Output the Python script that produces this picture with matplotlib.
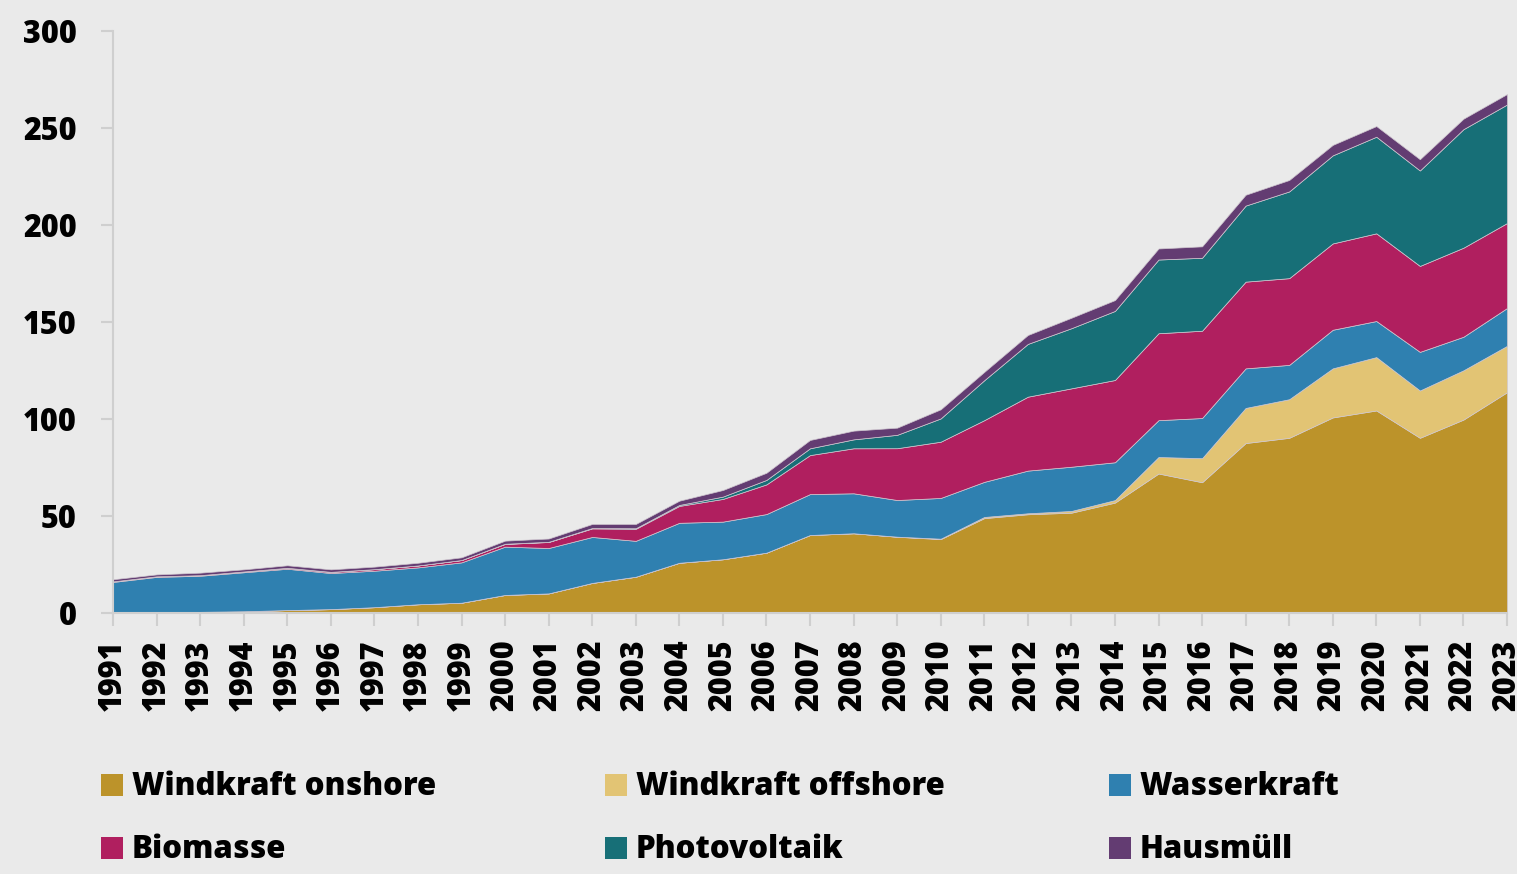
import numpy as np
import matplotlib.pyplot as plt
from matplotlib.patches import Rectangle

plt.rcParams['font.family'] = ['Open Sans', 'DejaVu Sans']
plt.rcParams['font.weight'] = 'heavy'

# Stromerzeugung aus erneuerbaren Energien, TWh
years = list(range(1991, 2024))

wind_onshore = [0.1, 0.2, 0.6, 0.9, 1.5, 2.0, 3.0, 4.5, 5.3, 9.3,
                10.1, 15.5, 18.7, 25.9, 27.7, 31.1, 40.2, 41.1, 39.3, 38.1,
                48.9, 50.9, 51.7, 56.9, 71.9, 67.4, 87.6, 90.3, 100.8, 104.4,
                90.3, 99.7, 113.8]
wind_offshore = [0, 0, 0, 0, 0, 0, 0, 0, 0, 0,
                 0, 0, 0, 0, 0, 0, 0, 0, 0.04, 0.2,
                 0.6, 0.5, 0.9, 1.3, 8.5, 12.4, 18.1, 19.9, 25.3, 27.5,
                 24.4, 25.4, 23.9]
wasserkraft = [15.9, 18.4, 18.6, 20.1, 21.3, 18.6, 18.8, 19.0, 20.8, 24.9,
               23.4, 23.7, 18.5, 20.6, 19.4, 19.9, 21.1, 20.6, 18.9, 21.0,
               18.1, 22.0, 22.8, 19.5, 19.0, 20.7, 20.4, 17.7, 19.9, 18.6,
               19.9, 17.3, 19.5]
biomasse = [0.3, 0.3, 0.3, 0.4, 0.5, 0.6, 0.8, 1.0, 1.2, 1.4,
            3.1, 4.4, 6.2, 8.7, 11.7, 15.3, 20.1, 23.2, 26.7, 29.0,
            31.8, 38.1, 40.4, 42.4, 44.8, 45.0, 44.7, 44.7, 44.5, 45.2,
            44.3, 45.9, 43.8]
photovoltaik = [0, 0, 0, 0, 0, 0, 0, 0, 0, 0.1,
                0.1, 0.2, 0.3, 0.5, 1.2, 2.3, 3.5, 4.6, 6.9, 12.0,
                20.6, 27.2, 31.0, 35.6, 38.0, 37.6, 39.2, 44.7, 45.4, 49.8,
                49.2, 61.1, 61.1]
hausmuell = [1.1, 1.0, 1.3, 1.1, 1.3, 1.3, 1.3, 1.4, 1.4, 1.6,
             1.7, 2.1, 2.2, 2.2, 3.4, 3.7, 4.3, 4.5, 3.7, 4.7,
             4.3, 4.6, 5.4, 5.6, 5.7, 5.9, 5.6, 5.9, 5.4, 5.5,
             5.8, 5.4, 5.4]

labels = ['Windkraft onshore', 'Windkraft offshore', 'Wasserkraft',
          'Biomasse', 'Photovoltaik', 'Hausmüll']
colors = ['#BC932A', '#E2C474', '#2F80B0', '#B01F5F', '#176F77', '#633C72']

bg = '#EAEAEA'
fig = plt.figure(figsize=(15.17, 8.74), dpi=100, facecolor=bg)
ax = fig.add_axes([113 / 1517, 1 - 613 / 874, 1394 / 1517, 582 / 874])
ax.set_facecolor(bg)

ax.stackplot(years, wind_onshore, wind_offshore, wasserkraft, biomasse,
             photovoltaik, hausmuell, colors=colors,
             edgecolor='#d0c8d0', linewidth=0.5)

ax.set_xlim(1991, 2023)
ax.set_ylim(0, 300)
ax.set_yticks(range(0, 301, 50))
ax.set_xticks(years)
ax.set_xticklabels([str(y) for y in years], rotation=90)

for side in ['top', 'right']:
    ax.spines[side].set_visible(False)
for side in ['left', 'bottom']:
    ax.spines[side].set_color('#cfcfcf')
    ax.spines[side].set_linewidth(1.5)
ax.tick_params(axis='both', colors='#cfcfcf', width=1.5, length=9,
               labelcolor='black', labelsize=22)
ax.tick_params(axis='y', pad=17)
ax.tick_params(axis='x', pad=10)

# Legende in drei Spalten unter der Grafik
col_x = [101, 605, 1109]
row_y = [785, 848]
for i, (lab, col) in enumerate(zip(labels, colors)):
    x = col_x[i % 3]
    y = row_y[i // 3]
    fig.patches.append(Rectangle((x / 1517, 1 - (y + 11) / 874), 22 / 1517, 22 / 874,
                                 transform=fig.transFigure, facecolor=col,
                                 edgecolor='none'))
    fig.text((x + 31) / 1517, 1 - (y + 10) / 874, lab, fontsize=22.5,
             fontweight='heavy', va='baseline', ha='left')

fig.savefig('out.png', dpi=100, facecolor=bg)
